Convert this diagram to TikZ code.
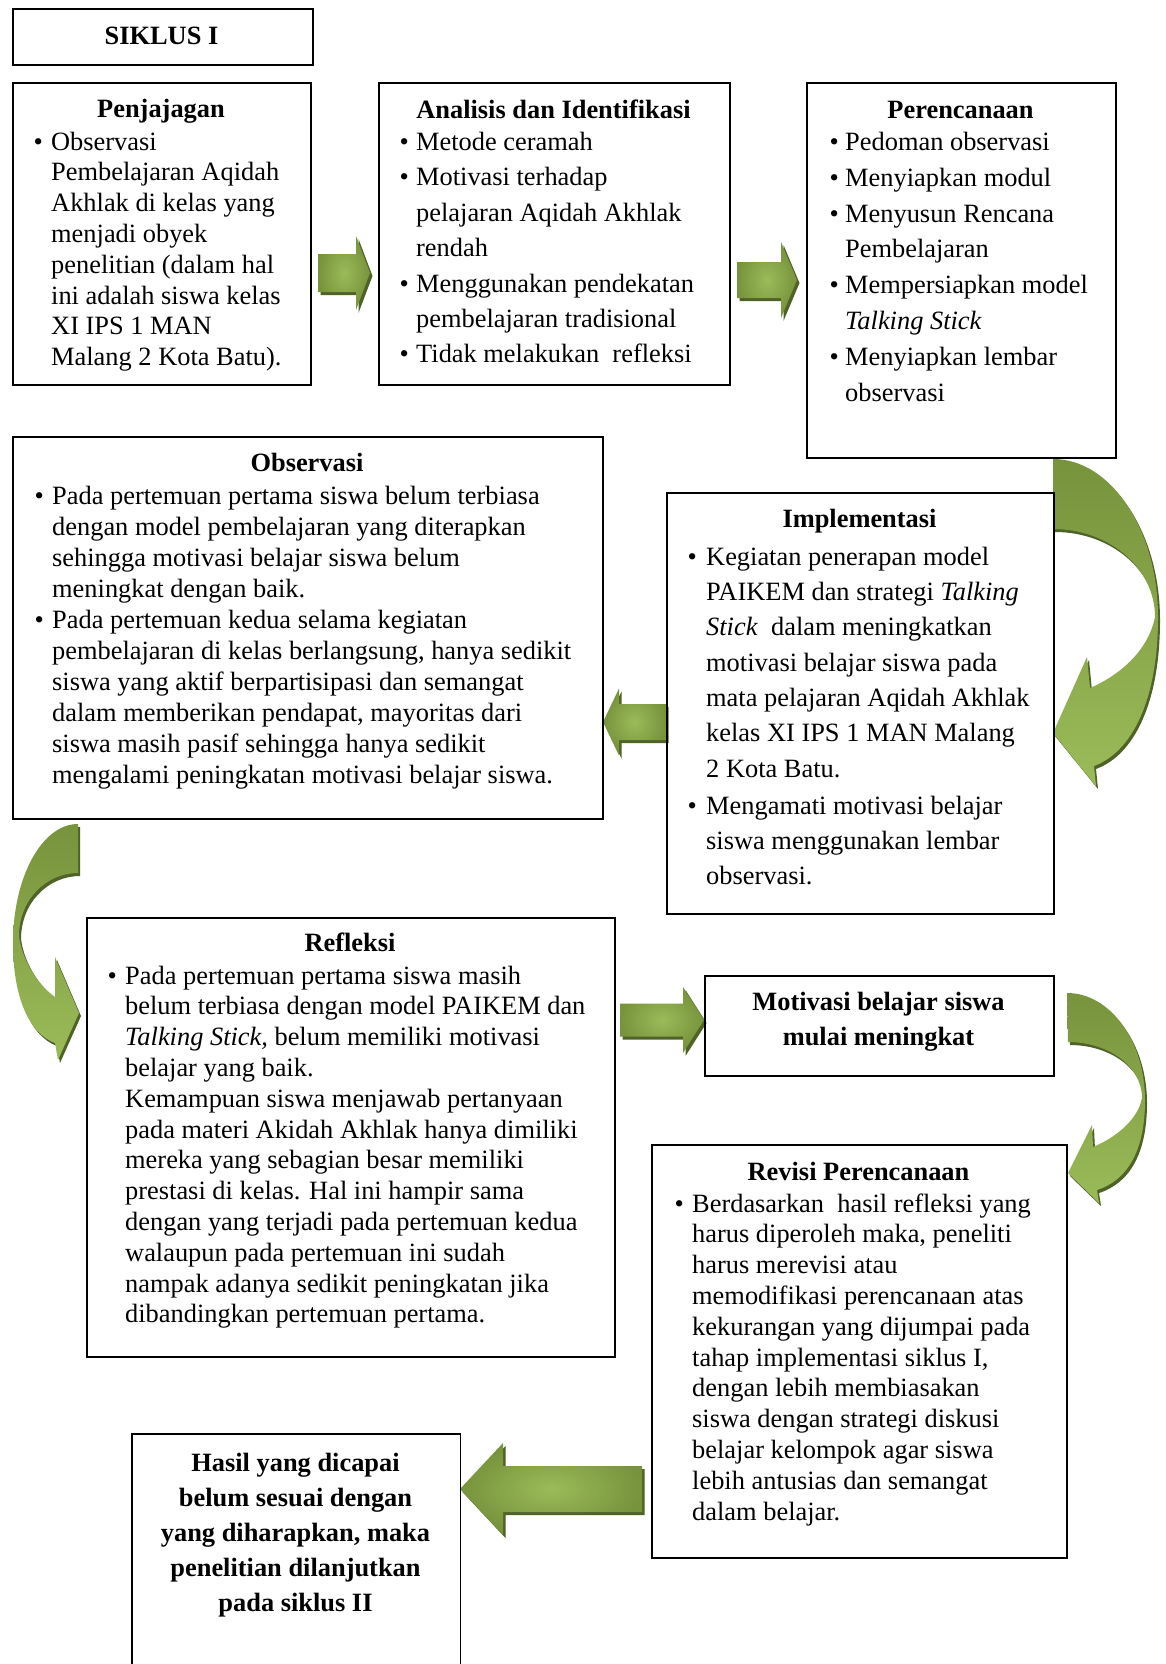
\documentclass[tikz,border=0pt]{standalone}
\usepackage{fontspec}
\setmainfont{Liberation Serif}
\definecolor{gDark}{HTML}{77933C}
\definecolor{gLight}{HTML}{9BBB59}
\definecolor{gShadow}{HTML}{4F6228}
\newcommand{\fs}[1]{\fontsize{26.4}{#1}\selectfont}
\newcommand{\bl}[1]{\makebox[#1pt][l]{\hspace{1.5pt}\textbullet}}
\newcommand{\ind}[1]{\hspace*{#1pt}}
% straight block arrow: x0 (tail), x1 (head base), x2 (tip), yc, half shaft, half head
\newcommand{\blockarrow}[6]{%
  \fill[gShadow, shift={(2.5,3)}] (#1,#4-#5) -- (#2,#4-#5) -- (#2,#4-#6) -- (#3,#4) -- (#2,#4+#6) -- (#2,#4+#5) -- (#1,#4+#5) -- cycle;
  \shade[inner color=gLight, outer color=gDark] (#1,#4-#5) -- (#2,#4-#5) -- (#2,#4-#6) -- (#3,#4) -- (#2,#4+#6) -- (#2,#4+#5) -- (#1,#4+#5) -- cycle;}
\newcommand{\curvedarrow}[1]{%
  \fill[gShadow, shift={(2,3)}] #1;
  \shade[top color=gDark, bottom color=gLight] #1;}
\begin{document}
\begin{tikzpicture}[x=1pt,y=-1pt,
  box/.style={draw=black, line width=1.6, inner sep=0, anchor=north west},
  txt/.style={anchor=north west, inner sep=0, align=left},
  ttl/.style={anchor=base, inner sep=0, font=\bfseries\fs{30.8}},
  ctr/.style={anchor=north, inner sep=0, align=center, font=\bfseries\fs{35}}]
\useasboundingbox (0,0) rectangle (1165,1664);
\fill[white] (0,0) rectangle (1165,1664);

% ---- connectors (block arrows) ----
\blockarrow{318}{356}{370}{273}{19}{37}
\blockarrow{737}{781}{797}{280}{18}{38}
\blockarrow{666}{619}{603}{722}{18}{33.5}
\blockarrow{620}{683}{704}{1020}{16.5}{33}
\blockarrow{642}{503}{460}{1489}{23}{46}

% curved arrow: Perencanaan -> Implementasi
\curvedarrow{(1053,459) .. controls (1111,459) and (1158,530) .. (1158,617)
  .. controls (1158,700) and (1132,752) .. (1094,766)
  -- (1096,786) -- (1053,733) -- (1087,657) -- (1090,688)
  .. controls (1118,676) and (1148,652) .. (1155,617)
  .. controls (1155,568) and (1109,529) .. (1053,529) -- cycle}
% curved arrow: Observasi -> Refleksi
\curvedarrow{(78,824) .. controls (42,824) and (13,877) .. (13,943)
  .. controls (13,995) and (28,1033) .. (55,1043)
  -- (58,1060) -- (79,1013) -- (55,957) -- (55,997)
  .. controls (38,985) and (22,960) .. (19,936)
  .. controls (19,900) and (46,873) .. (78,873) -- cycle}
% curved arrow: Motivasi -> Revisi
\curvedarrow{(1067,993) .. controls (1110,993) and (1145,1041) .. (1145,1100)
  .. controls (1145,1150) and (1128,1180) .. (1097,1190)
  -- (1099,1203) -- (1068,1173) -- (1092,1125) -- (1093,1147)
  .. controls (1115,1138) and (1138,1120) .. (1142,1098)
  .. controls (1142,1066) and (1108,1042) .. (1068,1042) -- cycle}

% ---- boxes ----
\node[box, minimum width=300, minimum height=56] (siklus) at (12,8) {};
\node[box, minimum width=298, minimum height=302] (pen) at (12,82) {};
\node[box, minimum width=351, minimum height=302] (ana) at (378,82) {};
\node[box, minimum width=309, minimum height=375] (per) at (806,82) {};
\node[box, minimum width=590, minimum height=382] (obs) at (12,436) {};
\node[box, minimum width=387, minimum height=421] (imp) at (666,492) {};
\node[box, minimum width=528, minimum height=439] (ref) at (86,917) {};
\node[box, minimum width=349, minimum height=100] (mot) at (704,975) {};
\node[box, minimum width=415, minimum height=413] (rev) at (651,1144) {};
\node[box, draw=none, minimum width=327, minimum height=232] (has) at (132,1434) {};
\draw[line width=1.6] (has.south west) -- (has.north west) -- (has.north east) -- (has.south east);

% ---- texts ----
\node[ttl] (siklusT) at (161.5,45) {SIKLUS I};

\node[ttl] (penT) at (161,118) {Penjajagan};
\node[txt, font=\fs{30.8}] (penB) at (32,128.4) {\strut\bl{19}Observasi\\
\ind{19}Pembelajaran Aqidah\\
\ind{19}Akhlak di kelas yang\\
\ind{19}menjadi obyek\\
\ind{19}penelitian (dalam hal\\
\ind{19}ini adalah siswa kelas\\
\ind{19}XI IPS 1 MAN\\
\ind{19}Malang 2 Kota Batu).};

\node[ttl] (anaT) at (553.5,119) {Analisis dan Identifikasi};
\node[txt, font=\fs{35.4}] (anaB) at (398,125.5) {\strut\bl{18}Metode ceramah\\
\bl{18}Motivasi terhadap\\
\ind{18}pelajaran Aqidah Akhlak\\
\ind{18}rendah\\
\bl{18}Menggunakan pendekatan\\
\ind{18}pembelajaran tradisional\\
\bl{18}Tidak melakukan\ \ refleksi};

\node[ttl] (perT) at (960.5,119) {Perencanaan};
\node[txt, font=\fs{35.8}] (perB) at (828,125.2) {\strut\bl{17}Pedoman observasi\\
\bl{17}Menyiapkan modul\\
\bl{17}Menyusun Rencana\\
\ind{17}Pembelajaran\\
\bl{17}Mempersiapkan model\\
\ind{17}\textit{Talking Stick}\\
\bl{17}Menyiapkan lembar\\
\ind{17}observasi};

\node[ttl] (obsT) at (307,471.5) {Observasi};
\node[txt, font=\fs{31}] (obsB) at (33,482.8) {\strut\bl{19}Pada pertemuan pertama siswa belum terbiasa\\
\ind{19}dengan model pembelajaran yang diterapkan\\
\ind{19}sehingga motivasi belajar siswa belum\\
\ind{19}meningkat dengan baik.\\
\bl{19}Pada pertemuan kedua selama kegiatan\\
\ind{19}pembelajaran di kelas berlangsung, hanya sedikit\\
\ind{19}siswa yang aktif berpartisipasi dan semangat\\
\ind{19}dalam memberikan pendapat, mayoritas dari\\
\ind{19}siswa masih pasif sehingga hanya sedikit\\
\ind{19}mengalami peningkatan motivasi belajar siswa.};

\node[ttl] (impT) at (859.5,527.5) {Implementasi};
\node[txt, font=\fs{35.3}] (impB) at (686,540.3) {\strut\bl{20}Kegiatan penerapan model\\
\ind{20}PAIKEM dan strategi \textit{Talking}\\
\ind{20}\textit{Stick}\ \ dalam meningkatkan\\
\ind{20}motivasi belajar siswa pada\\
\ind{20}mata pelajaran Aqidah Akhlak\\
\ind{20}kelas XI IPS 1 MAN Malang\\
\ind{20}2 Kota Batu.\\[2pt]
\bl{20}Mengamati motivasi belajar\\
\ind{20}siswa menggunakan lembar\\
\ind{20}observasi.};

\node[ttl] (refT) at (350,951) {Refleksi};
\node[txt, font=\fs{30.8}] (refB) at (106,962.4) {\strut\bl{19}Pada pertemuan pertama siswa masih\\
\ind{19}belum terbiasa dengan model PAIKEM dan\\
\ind{19}\textit{Talking Stick,} belum memiliki motivasi\\
\ind{19}belajar yang baik.\\
\ind{19}Kemampuan siswa menjawab pertanyaan\\
\ind{19}pada materi Akidah Akhlak hanya dimiliki\\
\ind{19}mereka yang sebagian besar memiliki\\
\ind{19}prestasi di kelas. Hal ini hampir sama\\
\ind{19}dengan yang terjadi pada pertemuan kedua\\
\ind{19}walaupun pada pertemuan ini sudah\\
\ind{19}nampak adanya sedikit peningkatan jika\\
\ind{19}dibandingkan pertemuan pertama.};

\node[ctr] (motT) at (878.5,986) {\strut Motivasi belajar siswa\\mulai meningkat};

\node[ttl] (revT) at (858.5,1180) {Revisi Perencanaan};
\node[txt, font=\fs{30.8}] (revB) at (673,1190.4) {\strut\bl{19}Berdasarkan\ \ hasil refleksi yang\\
\ind{19}harus diperoleh maka, peneliti\\
\ind{19}harus merevisi atau\\
\ind{19}memodifikasi perencanaan atas\\
\ind{19}kekurangan yang dijumpai pada\\
\ind{19}tahap implementasi siklus I,\\
\ind{19}dengan lebih membiasakan\\
\ind{19}siswa dengan strategi diskusi\\
\ind{19}belajar kelompok agar siswa\\
\ind{19}lebih antusias dan semangat\\
\ind{19}dalam belajar.};

\node[ctr] (hasT) at (295.5,1446.5) {\strut Hasil yang dicapai\\
belum sesuai dengan\\
yang diharapkan, maka\\
penelitian dilanjutkan\\
pada siklus II};
\end{tikzpicture}
\end{document}
